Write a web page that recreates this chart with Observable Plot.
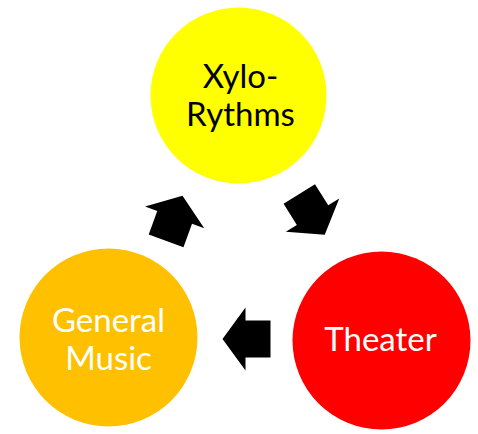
<!DOCTYPE html>
<html>
<head>
<meta charset="utf-8">
<script src="https://cdn.jsdelivr.net/npm/d3@7"></script>
<script src="https://cdn.jsdelivr.net/npm/@observablehq/plot@0.6"></script>
<style>
  html, body { margin: 0; padding: 0; background: #ffffff; }
  #chart { width: 478px; height: 434px; }
</style>
</head>
<body>
<div id="chart"></div>
<script>
// Nodes of the cycle
const nodeLabels = ["Xylo-\nRythms", "Theater", "General\nMusic"];
const nodeX = [238, 381, 108];
const nodeY = [95, 340, 337];
const nodeR = [88, 89, 89];
const nodeFill = ["#FFFF00", "#FF0000", "#FFC000"];
const nodeTextColor = ["#000000", "#FFFFFF", "#FFFFFF"];
const labelX = [240, 380, 108];
const labelY = [94, 338, 338];

// Arrows between nodes (center position and direction, degrees clockwise)
const arrowX = [311.5, 246, 173.8];
const arrowY = [213.8, 338.5, 217.8];
const arrowAngle = [58, 180, -70];

const nodes = nodeLabels.map((label, i) => ({
  label, x: nodeX[i], y: nodeY[i], r: nodeR[i], fill: nodeFill[i],
  tx: labelX[i], ty: labelY[i], tc: nodeTextColor[i]
}));
const arrows = arrowX.map((x, i) => ({x, y: arrowY[i], angle: arrowAngle[i]}));

// Block arrow symbol pointing right; r = half length
const blockArrow = {
  draw(context, size) {
    const h = Math.sqrt(size / Math.PI); // half length (24)
    const k = h / 24;
    const pts = [
      [-24, -18.5], [1, -18.5], [1, -31.5], [24, 0],
      [1, 31.5], [1, 18.5], [-24, 18.5]
    ];
    context.moveTo(pts[0][0] * k, pts[0][1] * k);
    for (let i = 1; i < pts.length; i++) context.lineTo(pts[i][0] * k, pts[i][1] * k);
    context.closePath();
  }
};

const chart = Plot.plot({
  width: 478,
  height: 434,
  margin: 0,
  x: {domain: [0, 478], range: [0, 478], axis: null},
  y: {domain: [0, 434], range: [0, 434], axis: null},
  r: {type: "identity"},
  color: {type: "identity"},
  style: {background: "#ffffff"},
  marks: [
    Plot.dot(nodes, {x: "x", y: "y", r: "r", fill: "fill", stroke: null}),
    Plot.dot(arrows, {x: "x", y: "y", r: 24, rotate: "angle", symbol: blockArrow, fill: "#000000", stroke: null}),
    Plot.text(nodes, {
      x: "tx", y: "ty", text: "label", fill: "tc",
      fontSize: 33, lineHeight: 1.18, lineAnchor: "middle", textAnchor: "middle",
      fontFamily: "'Comic Sans MS', Lato, sans-serif"
    })
  ]
});
document.getElementById("chart").appendChild(chart);
</script>
</body>
</html>
